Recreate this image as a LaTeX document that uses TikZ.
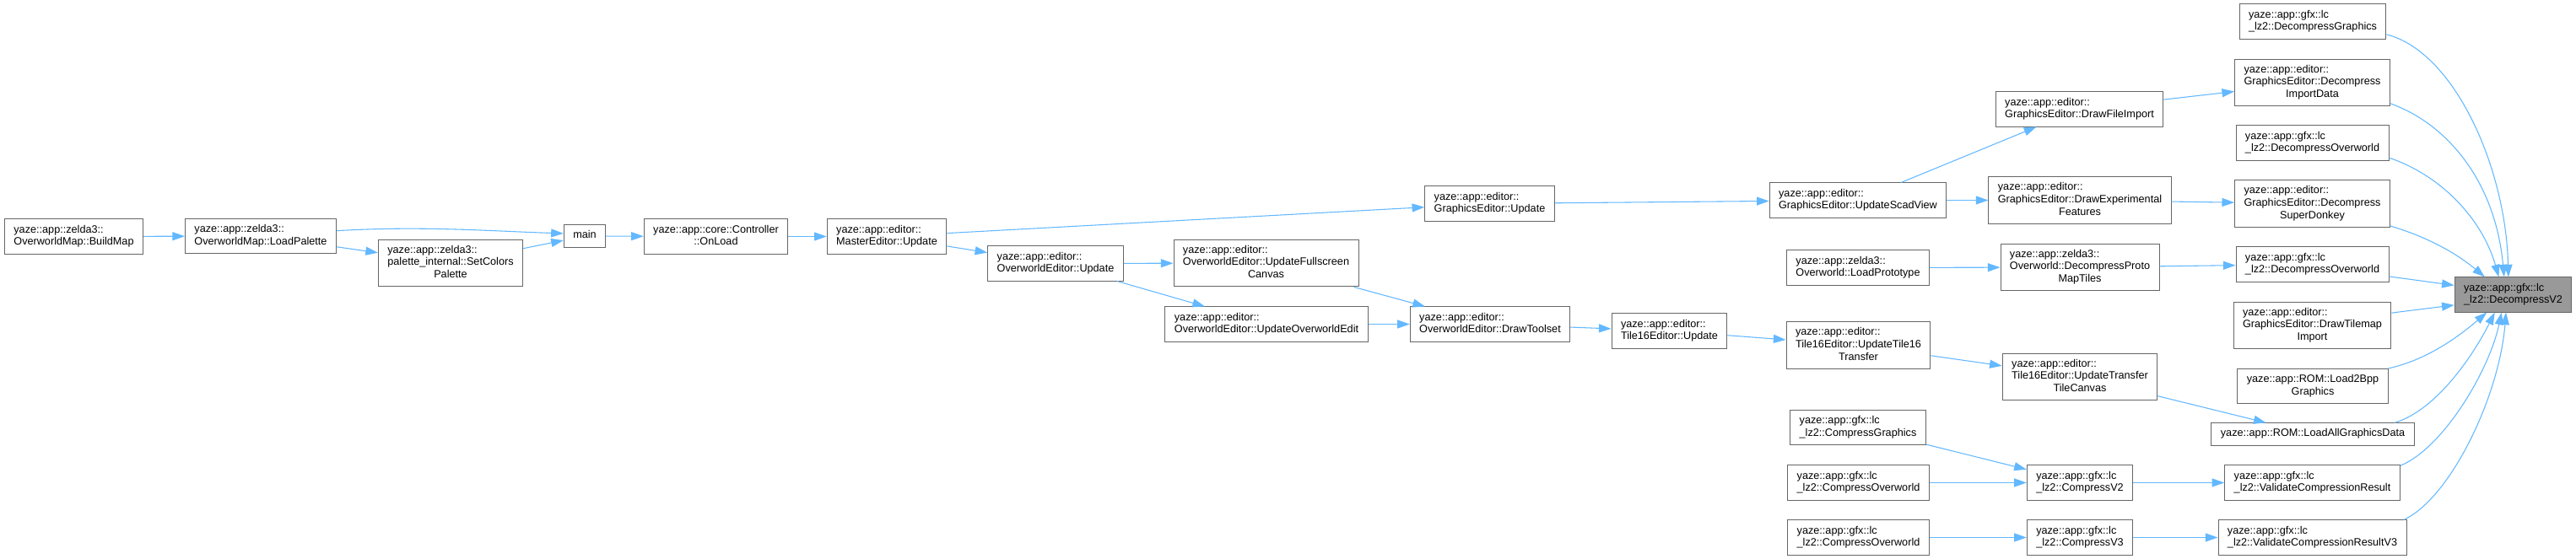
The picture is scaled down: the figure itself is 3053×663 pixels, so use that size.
\documentclass[tikz,border=0pt]{standalone}
\usepackage{fontspec}
\setmainfont{Liberation Sans}
\usetikzlibrary{arrows.meta}
\definecolor{edgeblue}{HTML}{63B8FF}
\definecolor{boxgray}{HTML}{666666}
\definecolor{rootfill}{HTML}{999999}
\newcommand{\fnl}[2]{\begin{tabular}{@{}l@{}}#1\\\multicolumn{1}{@{}c@{}}{#2}\end{tabular}}
\newcommand{\fno}[1]{\begin{tabular}{@{}c@{}}#1\end{tabular}}
\begin{document}
\begin{tikzpicture}[x=0.75pt, y=-0.75pt,
		fn/.style={draw=boxgray, line width=0.75pt, fill=white, inner xsep=8.2pt, inner ysep=4.3pt, font=\fontsize{9.5}{11.1}\selectfont},
		root/.style={fn, fill=rootfill},
		call/.style={draw=edgeblue, line width=0.8pt, -{Triangle[length=11pt, width=7.5pt]}},
	]
	\useasboundingbox (0,0) rectangle (3053,663);

	\node[fn] (buildmap)   at (87.5, 280.5)   {\fnl{yaze::app::zelda3::}{OverworldMap::BuildMap}};
	\node[fn] (loadpal)    at (309, 280)      {\fnl{yaze::app::zelda3::}{OverworldMap::LoadPalette}};
	\node[fn] (setcol)     at (534, 312)      {\fnl{yaze::app::zelda3::\\palette\_internal::SetColors}{Palette}};
	\node[fn] (main)       at (693, 280)      {\fno{main}};
	\node[fn] (onload)     at (848.5, 280.5)  {\fnl{yaze::app::core::Controller}{::OnLoad}};
	\node[fn] (master)     at (1051, 280.5)   {\fnl{yaze::app::editor::}{MasterEditor::Update}};
	\node[fn] (owupd)      at (1251, 312.5)   {\fnl{yaze::app::editor::}{OverworldEditor::Update}};
	\node[fn] (gfxupd)     at (1765.5, 241.5) {\fnl{yaze::app::editor::}{GraphicsEditor::Update}};
	\node[fn] (fullscr)    at (1500.5, 312)   {\fnl{yaze::app::editor::\\OverworldEditor::UpdateFullscreen}{Canvas}};
	\node[fn] (owedit)     at (1501, 384.5)   {\fnl{yaze::app::editor::}{OverworldEditor::UpdateOverworldEdit}};
	\node[fn] (toolset)    at (1766, 384.5)   {\fnl{yaze::app::editor::}{OverworldEditor::DrawToolset}};
	\node[fn] (t16upd)     at (1978.5, 392.5) {\fnl{yaze::app::editor::}{Tile16Editor::Update}};
	\node[fn] (scad)       at (2202, 237.5)   {\fnl{yaze::app::editor::}{GraphicsEditor::UpdateScadView}};
	\node[fn] (loadproto)  at (2202, 317.5)   {\fnl{yaze::app::zelda3::}{Overworld::LoadPrototype}};
	\node[fn] (t16xfer)    at (2202.5, 409.5) {\fnl{yaze::app::editor::\\Tile16Editor::UpdateTile16}{Transfer}};
	\node[fn] (cmpgfx)     at (2202, 507)     {\fnl{yaze::app::gfx::lc}{\_lz2::CompressGraphics}};
	\node[fn] (cmpow1)     at (2202.5, 572.5) {\fnl{yaze::app::gfx::lc}{\_lz2::CompressOverworld}};
	\node[fn] (cmpow2)     at (2202.5, 637.5) {\fnl{yaze::app::gfx::lc}{\_lz2::CompressOverworld}};
	\node[fn] (fileimp)    at (2464.5, 129.5) {\fnl{yaze::app::editor::}{GraphicsEditor::DrawFileImport}};
	\node[fn] (expfeat)    at (2465, 237.5)   {\fnl{yaze::app::editor::\\GraphicsEditor::DrawExperimental}{Features}};
	\node[fn] (protomap)   at (2465, 317)     {\fnl{yaze::app::zelda3::\\Overworld::DecompressProto}{MapTiles}};
	\node[fn] (xfercanvas) at (2465, 447)     {\fnl{yaze::app::editor::\\Tile16Editor::UpdateTransfer}{TileCanvas}};
	\node[fn] (cv2)        at (2465, 572.5)   {\fnl{yaze::app::gfx::lc}{\_lz2::CompressV2}};
	\node[fn] (cv3)        at (2465, 637.5)   {\fnl{yaze::app::gfx::lc}{\_lz2::CompressV3}};

	% callers of DecompressV2
	\node[fn] (dgfx)       at (2741, 25.5)    {\fnl{yaze::app::gfx::lc}{\_lz2::DecompressGraphics}};
	\node[fn] (dimport)    at (2740.5, 98)    {\fnl{yaze::app::editor::\\GraphicsEditor::Decompress}{ImportData}};
	\node[fn] (dow1)       at (2740.5, 169.5) {\fnl{yaze::app::gfx::lc}{\_lz2::DecompressOverworld}};
	\node[fn] (donkey)     at (2740.5, 241.5) {\fnl{yaze::app::editor::\\GraphicsEditor::Decompress}{SuperDonkey}};
	\node[fn] (dow2)       at (2740.5, 313.5) {\fnl{yaze::app::gfx::lc}{\_lz2::DecompressOverworld}};
	\node[fn] (tilemap)    at (2740.5, 386)   {\fnl{yaze::app::editor::\\GraphicsEditor::DrawTilemap}{Import}};
	\node[fn] (load2bpp)   at (2741, 458)     {\fnl{yaze::app::ROM::Load2Bpp}{Graphics}};
	\node[fn] (loadall)    at (2741, 515)     {\fno{yaze::app::ROM::LoadAllGraphicsData}};
	\node[fn] (valid)      at (2740.5, 572.5) {\fnl{yaze::app::gfx::lc}{\_lz2::ValidateCompressionResult}};
	\node[fn] (valid3)     at (2740.5, 637.5) {\fnl{yaze::app::gfx::lc}{\_lz2::ValidateCompressionResultV3}};
	\node[root] (dv2)      at (2978.5, 349.5) {\fnl{yaze::app::gfx::lc}{\_lz2::DecompressV2}};

	\draw[call] (buildmap) -- (loadpal);
	\draw[call] (loadpal.4) .. controls +(100,-6) and +(-90,-3) .. (main.173);
	\draw[call] (loadpal) -- (setcol);
	\draw[call] (setcol) -- (main);
	\draw[call] (main) -- (onload);
	\draw[call] (onload) -- (master);
	\draw[call] (master) -- (gfxupd);
	\draw[call] (master) -- (owupd);
	\draw[call] (owupd) -- (fullscr);
	\draw[call] (owupd) -- (owedit);
	\draw[call] (fullscr) -- (toolset);
	\draw[call] (owedit) -- (toolset);
	\draw[call] (toolset) -- (t16upd);
	\draw[call] (t16upd) -- (t16xfer);
	\draw[call] (t16xfer) -- (xfercanvas);
	\draw[call] (xfercanvas) -- (loadall);
	\draw[call] (gfxupd) -- (scad);
	\draw[call] (scad) -- (fileimp);
	\draw[call] (scad) -- (expfeat);
	\draw[call] (fileimp) -- (dimport);
	\draw[call] (expfeat) -- (donkey);
	\draw[call] (loadproto) -- (protomap);
	\draw[call] (protomap) -- (dow2);
	\draw[call] (cmpgfx) -- (cv2);
	\draw[call] (cmpow1) -- (cv2);
	\draw[call] (cmpow2) -- (cv3);
	\draw[call] (cv2) -- (valid);
	\draw[call] (cv3) -- (valid3);

	% fan-in to DecompressV2
	\draw[call] (dgfx.-10) .. controls +(80,20) and +(-3,-130) .. (dv2.105);
	\draw[call] (dimport.-15) .. controls +(70,25) and +(-10,-110) .. (dv2.117);
	\draw[call] (dow1.-11) .. controls +(60,20) and +(-20,-70) .. (dv2.129);
	\draw[call] (donkey.-16) .. controls +(50,15) and +(-30,-25) .. (dv2.148);
	\draw[call] (dow2.-9) -- (dv2.171);
	\draw[call] (tilemap.9) -- (dv2.-170);
	\draw[call] (load2bpp.north east) .. controls +(45,-10) and +(-35,30) .. (dv2.214);
	\draw[call] (loadall.8) .. controls +(50,-15) and +(-25,50) .. (dv2.224);
	\draw[call] (valid.11) .. controls +(50,-20) and +(-15,70) .. (dv2.237);
	\draw[call] (valid3.11) .. controls +(55,-25) and +(-8,100) .. (dv2.248);
\end{tikzpicture}
\end{document}
